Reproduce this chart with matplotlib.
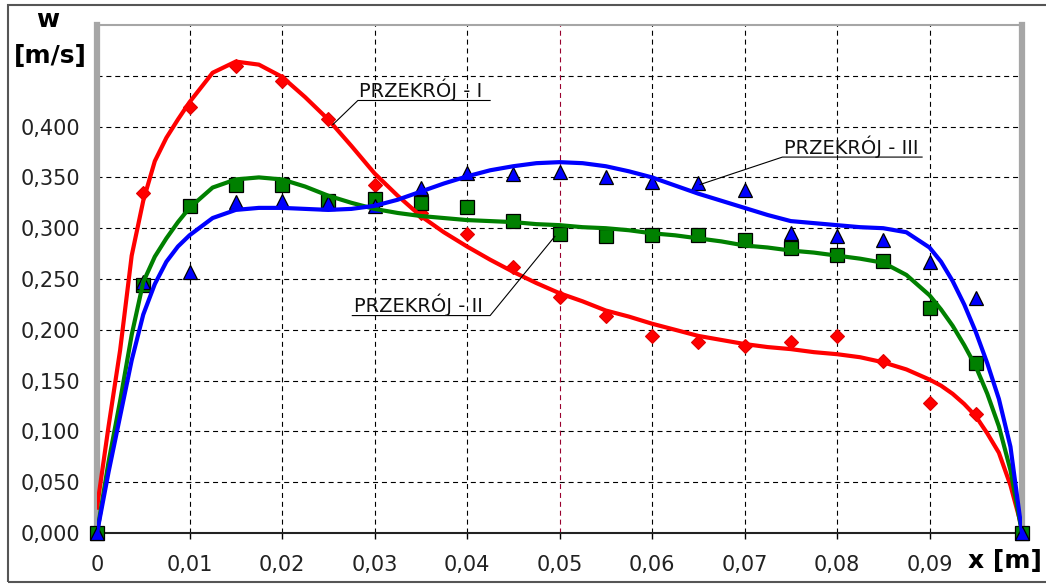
import matplotlib
matplotlib.use('Agg')
from matplotlib import pyplot as plt
from matplotlib.patches import Rectangle

# measured points, every 0.005 m
x_pts = [0, 0.005, 0.01, 0.015, 0.02, 0.025, 0.03, 0.035, 0.04, 0.045, 0.05,
         0.055, 0.06, 0.065, 0.07, 0.075, 0.08, 0.085, 0.09, 0.095, 0.1]
w_I = [0, 0.335, 0.419, 0.460, 0.445, 0.407, 0.343, 0.315, 0.294, 0.262, 0.232,
       0.214, 0.194, 0.188, 0.184, 0.188, 0.194, 0.169, 0.128, 0.117, 0]
w_II = [0, 0.244, 0.322, 0.343, 0.343, 0.327, 0.329, 0.325, 0.321, 0.307, 0.294,
        0.292, 0.293, 0.293, 0.288, 0.281, 0.274, 0.268, 0.221, 0.167, 0]
w_III = [0, 0.247, 0.257, 0.326, 0.327, 0.325, 0.322, 0.340, 0.354, 0.353, 0.355,
         0.350, 0.345, 0.344, 0.338, 0.295, 0.292, 0.288, 0.267, 0.231, 0]

# trend curves (denser near the walls)
x_curve = [0, 0.00125, 0.0025, 0.00375, 0.005, 0.00625, 0.0075, 0.00875,
           0.01, 0.0125, 0.015, 0.0175, 0.02, 0.0225, 0.025, 0.0275, 0.03,
           0.0325, 0.035, 0.0375, 0.04, 0.0425, 0.045, 0.0475, 0.05, 0.0525,
           0.055, 0.0575, 0.06, 0.0625, 0.065, 0.0675, 0.07, 0.0725, 0.075,
           0.0775, 0.08, 0.0825, 0.085, 0.0875, 0.09, 0.09125, 0.0925, 0.09375,
           0.095, 0.09625, 0.0975, 0.09875, 0.1]
c_I = [0.025, 0.105, 0.180, 0.273, 0.327, 0.366, 0.389, 0.407,
       0.424, 0.453, 0.464, 0.461, 0.449, 0.429, 0.407, 0.381, 0.354,
       0.332, 0.312, 0.296, 0.282, 0.269, 0.257, 0.246, 0.236, 0.228,
       0.219, 0.213, 0.206, 0.200, 0.194, 0.190, 0.186, 0.183, 0.181,
       0.178, 0.176, 0.173, 0.168, 0.161, 0.151, 0.145, 0.137, 0.127,
       0.115, 0.098, 0.079, 0.047, 0.005]
c_II = [0.0, 0.070, 0.130, 0.195, 0.247, 0.272, 0.290, 0.306,
        0.320, 0.340, 0.348, 0.350, 0.348, 0.341, 0.332, 0.325, 0.319,
        0.315, 0.312, 0.310, 0.308, 0.307, 0.306, 0.304, 0.303, 0.301,
        0.300, 0.298, 0.295, 0.293, 0.290, 0.287, 0.283, 0.281, 0.278,
        0.276, 0.273, 0.270, 0.266, 0.254, 0.234, 0.220, 0.204, 0.185,
        0.164, 0.137, 0.105, 0.062, 0.0]
c_III = [0.0, 0.060, 0.115, 0.170, 0.215, 0.245, 0.267, 0.282,
         0.293, 0.310, 0.318, 0.320, 0.320, 0.319, 0.318, 0.319, 0.322,
         0.328, 0.336, 0.344, 0.351, 0.357, 0.361, 0.364, 0.365, 0.364,
         0.361, 0.356, 0.350, 0.342, 0.334, 0.327, 0.320, 0.313, 0.307,
         0.305, 0.303, 0.301, 0.300, 0.296, 0.281, 0.267, 0.248, 0.225,
         0.198, 0.167, 0.132, 0.085, 0.0]

x_ticks = [0, 0.01, 0.02, 0.03, 0.04, 0.05, 0.06, 0.07, 0.08, 0.09]
x_labels = ['0', '0,01', '0,02', '0,03', '0,04', '0,05', '0,06', '0,07', '0,08', '0,09']
y_ticks = [0, 0.05, 0.1, 0.15, 0.2, 0.25, 0.3, 0.35, 0.4]
y_labels = ['0,000', '0,050', '0,100', '0,150', '0,200', '0,250', '0,300', '0,350', '0,400']
grid_y = [0.05, 0.1, 0.15, 0.2, 0.25, 0.3, 0.35, 0.4, 0.45]
grid_x = [0.01, 0.02, 0.03, 0.04, 0.06, 0.07, 0.08, 0.09]

W, H = 1046, 584
fig = plt.figure(figsize=(W / 100, H / 100), dpi=100)
ax = fig.add_axes([97 / W, 1 - 533 / H, (1022 - 97) / W, (533 - 25) / H])
ax.set_xlim(0, 0.1)
ax.set_ylim(0, 0.5)

dash = (0, (4.5, 3.5))
for g in grid_y:
    ax.axhline(g, color='black', lw=0.8, ls=dash, zorder=1)
for g in grid_x:
    ax.axvline(g, color='black', lw=0.8, ls=dash, zorder=1)
ax.axvline(0.05, color='#99002e', lw=0.8, ls=dash, zorder=1)

# points
ax.plot(x_pts, w_I, 'D', ms=7, mfc='#ff0000', mec='#e00000', mew=0.8, zorder=3, clip_on=False)
ax.plot(x_pts, w_II, 's', ms=9.5, mfc='#008000', mec='black', mew=0.9, zorder=3, clip_on=False)
ax.plot(x_pts, w_III, '^', ms=10, mfc='#0000ff', mec='black', mew=0.9, zorder=3, clip_on=False)

# curves
ax.plot(x_curve, c_I, color='#ff0000', lw=3, zorder=4, solid_joinstyle='round')
ax.plot(x_curve, c_II, color='#008000', lw=3, zorder=4, solid_joinstyle='round')
ax.plot(x_curve, c_III, color='#0000ff', lw=3, zorder=4, solid_joinstyle='round')

# labels with leader lines
labels = [
    ('PRZEKRÓJ - I', [0.0255, 0.0282, 0.0425], [0.402, 0.4257, 0.4257], 0.0282),
    ('PRZEKRÓJ - II', [0.0495, 0.0425, 0.0276], [0.292, 0.214, 0.214], 0.0276),
    ('PRZEKRÓJ - III', [0.0652, 0.0741, 0.0892], [0.343, 0.370, 0.370], 0.0741),
]
for txt, lx, ly, tx in labels:
    ax.plot(lx, ly, color='black', lw=0.8, zorder=5)
    ax.annotate(txt, xy=(tx, ly[1]), xytext=(1, 2.5), textcoords='offset points',
                ha='left', va='baseline', fontsize=14, color='#111111', zorder=5)

# axes look
for s in ['left', 'right']:
    ax.spines[s].set_color('#a6a6a6')
    ax.spines[s].set_linewidth(4.5)
ax.spines['top'].set_color('#a6a6a6')
ax.spines['top'].set_linewidth(1.5)
ax.spines['bottom'].set_color('#222222')
ax.spines['bottom'].set_linewidth(1.5)

ax.set_xticks(x_ticks)
ax.set_xticklabels(x_labels)
ax.set_yticks(y_ticks)
ax.set_yticklabels(y_labels)
ax.tick_params(axis='x', direction='out', length=4, width=1, color='black',
               pad=12, labelsize=15, labelcolor='#222222')
ax.tick_params(axis='y', direction='out', length=0, pad=12, labelsize=15,
               labelcolor='#222222')

fig.text(48 / W, 1 - 20 / H, 'w', ha='center', va='center', fontsize=18, fontweight='bold')
fig.text(50 / W, 1 - 56 / H, '[m/s]', ha='center', va='center', fontsize=18, fontweight='bold')
fig.text(1005 / W, 1 - 561 / H, 'x [m]', ha='center', va='center', fontsize=18, fontweight='bold')

# outer frame
fig.patches.append(Rectangle((8 / W, 1 - 582 / H), 1 - 8 / W + 0.01, (582 - 5) / H,
                             transform=fig.transFigure, fill=False,
                             edgecolor='#555555', lw=1.5))

fig.savefig('out.png', dpi=100)
